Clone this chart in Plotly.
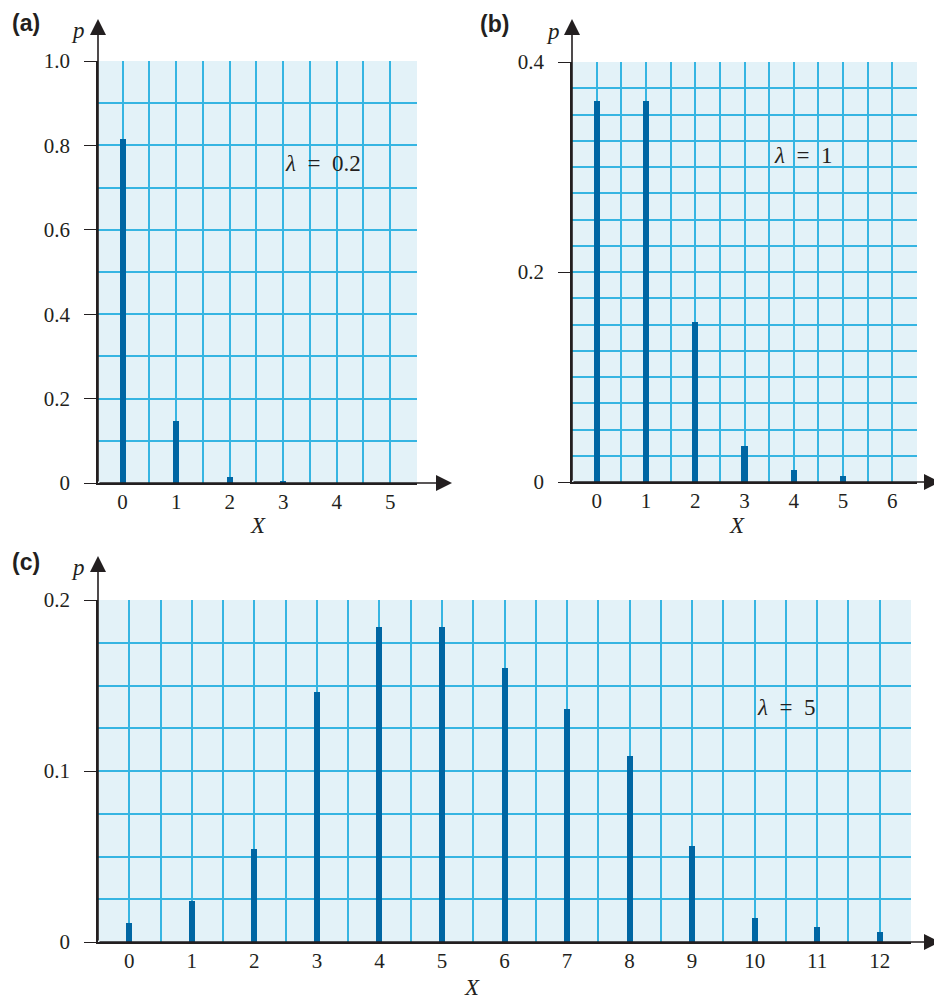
import plotly.graph_objects as go

# the page body adds an 8 px offset; the figure is sized and positioned to compensate
OFF = 8
FW, FH = 942 - OFF, 1003 - OFF

# ---- data ----
x_a = [0, 1, 2, 3]
p_a = [0.815, 0.146, 0.015, 0.003]

x_b = [0, 1, 2, 3, 4, 5]
p_b = [0.363, 0.363, 0.152, 0.034, 0.011, 0.006]

x_c = [0, 1, 2, 3, 4, 5, 6, 7, 8, 9, 10, 11, 12]
p_c = [0.011, 0.024, 0.0545, 0.146, 0.1845, 0.1845, 0.1605, 0.136, 0.109, 0.056, 0.014, 0.0086, 0.006]

yt_a = [0, 0.2, 0.4, 0.6, 0.8, 1.0]
yl_a = ["0", "0.2", "0.4", "0.6", "0.8", "1.0"]
yt_b = [0, 0.2, 0.4]
yl_b = ["0", "0.2", "0.4"]
yt_c = [0, 0.1, 0.2]
yl_c = ["0", "0.1", "0.2"]

panel_labels = ["(a)", "(b)", "(c)"]
NB = "\u00a0"
lambda_labels = ["<i>λ</i>" + NB * 2 + "=" + NB * 2 + "0.2",
                 "<i>λ</i>" + NB * 2 + "=" + NB * 2 + "1",
                 "<i>λ</i>" + NB * 2 + "=" + NB * 2 + "5"]

# ---- style ----
BAR = "#0066A3"
GRID = "#36B5E2"
BG = "#E3F2F8"
INK = "#231F20"
SERIF = "Liberation Serif"
SANS = "Liberation Sans"
FS = 21


def px(x):
    return (x - OFF) / FW


def py(y):
    return 1 - (y - OFF) / FH


def xd(l, r):
    return [px(l), px(r)]


def yd(t, b):
    return [py(b), py(t)]


fig = go.Figure()

fig.add_trace(go.Bar(x=x_a, y=p_a, width=0.112, marker=dict(color=BAR, line=dict(width=0)),
                     xaxis="x", yaxis="y", showlegend=False, hoverinfo="skip"))
fig.add_trace(go.Bar(x=x_b, y=p_b, width=0.122, marker=dict(color=BAR, line=dict(width=0)),
                     xaxis="x2", yaxis="y2", showlegend=False, hoverinfo="skip"))
fig.add_trace(go.Bar(x=x_c, y=p_c, width=0.096, marker=dict(color=BAR, line=dict(width=0)),
                     xaxis="x3", yaxis="y3", showlegend=False, hoverinfo="skip"))


def xaxis(dom, rng, anchor):
    return dict(domain=dom, range=rng, anchor=anchor, tickmode="linear", tick0=0, dtick=1,
                showgrid=True, gridcolor=GRID, gridwidth=1.5,
                minor=dict(tick0=0, dtick=0.5, showgrid=True, gridcolor=GRID, gridwidth=1.5, ticks=""),
                ticks="", showline=True, linecolor=INK, linewidth=1.6, zeroline=False,
                tickfont=dict(family=SERIF, size=FS, color=INK), ticklabelstandoff=-1,
                automargin=False, fixedrange=True)


def yaxis(dom, rng, anchor, tv, tt, mdt):
    return dict(domain=dom, range=rng, anchor=anchor, tickmode="array", tickvals=tv, ticktext=tt,
                showgrid=True, gridcolor=GRID, gridwidth=1.5,
                minor=dict(tick0=0, dtick=mdt, showgrid=True, gridcolor=GRID, gridwidth=1.5, ticks=""),
                ticks="outside", ticklen=12, tickwidth=1.4, tickcolor=INK,
                showline=True, linecolor=INK, linewidth=1.6, zeroline=False,
                tickfont=dict(family=SERIF, size=FS, color=INK), ticklabelstandoff=10,
                automargin=False, fixedrange=True)


fig.update_layout(
    width=FW, height=FH, autosize=False, margin=dict(l=0, r=0, t=0, b=0, pad=0, autoexpand=False),
    paper_bgcolor="white", plot_bgcolor=BG, bargap=0, showlegend=False,
    xaxis=xaxis(xd(98, 417), [-0.46, 5.5], "y"),
    yaxis=yaxis(yd(61, 483), [0, 1.0], "x", yt_a, yl_a, 0.1),
    xaxis2=xaxis(xd(572, 917), [-0.5, 6.5], "y2"),
    yaxis2=yaxis(yd(62, 482), [0, 0.4], "x2", yt_b, yl_b, 0.025),
    xaxis3=xaxis(xd(98, 911), [-0.5, 12.5], "y3"),
    yaxis3=yaxis(yd(600, 942), [0, 0.2], "x3", yt_c, yl_c, 0.025),
)

ann = []
# axis arrows (tip in page pixels, tail offset in pixels)
arrows = [
    (452, 483, -354, 0), (98, 19, 0, 464),
    (940, 482, -368, 0), (572, 19, 0, 463),
    (940, 942, -842, 0), (98, 556, 0, 386),
]
for tx, ty, dx, dy in arrows:
    ann.append(dict(x=px(tx), y=py(ty), xref="paper", yref="paper", ax=dx, ay=dy,
                    axref="pixel", ayref="pixel", showarrow=True, arrowhead=2,
                    arrowsize=2.0, arrowwidth=1.6, arrowcolor=INK, standoff=0, text=""))

# panel labels
for (x, y), t in zip([(26, 23), (494, 24), (26, 562)], panel_labels):
    ann.append(dict(x=px(x), y=py(y), xref="paper", yref="paper", text="<b>" + t + "</b>",
                    xanchor="center", yanchor="middle",
                    showarrow=False, font=dict(family=SANS, size=23, color=INK)))

# p labels
for x, y in [(78, 30), (553, 32), (78, 567)]:
    ann.append(dict(x=px(x), y=py(y), xref="paper", yref="paper", text="<i>p</i>",
                    xanchor="center", yanchor="middle",
                    showarrow=False, font=dict(family=SERIF, size=23, color=INK)))

# X labels
for x, y in [(258, 525), (737, 525), (472, 987)]:
    ann.append(dict(x=px(x), y=py(y), xref="paper", yref="paper", text="<i>X</i>",
                    xanchor="center", yanchor="middle",
                    showarrow=False, font=dict(family=SERIF, size=23, color=INK)))

# lambda labels (in data coordinates of each panel)
for (xr, yr, x, y), t in zip([("x", "y", 3.74, 0.758), ("x2", "y2", 4.18, 0.311), ("x3", "y3", 10.5, 0.137)],
                             lambda_labels):
    ann.append(dict(x=x, y=y, xref=xr, yref=yr, text=t, showarrow=False,
                    xanchor="center", yanchor="middle",
                    font=dict(family=SERIF, size=23, color=INK)))

fig.update_layout(annotations=ann)

fig.write_html("out.html")
